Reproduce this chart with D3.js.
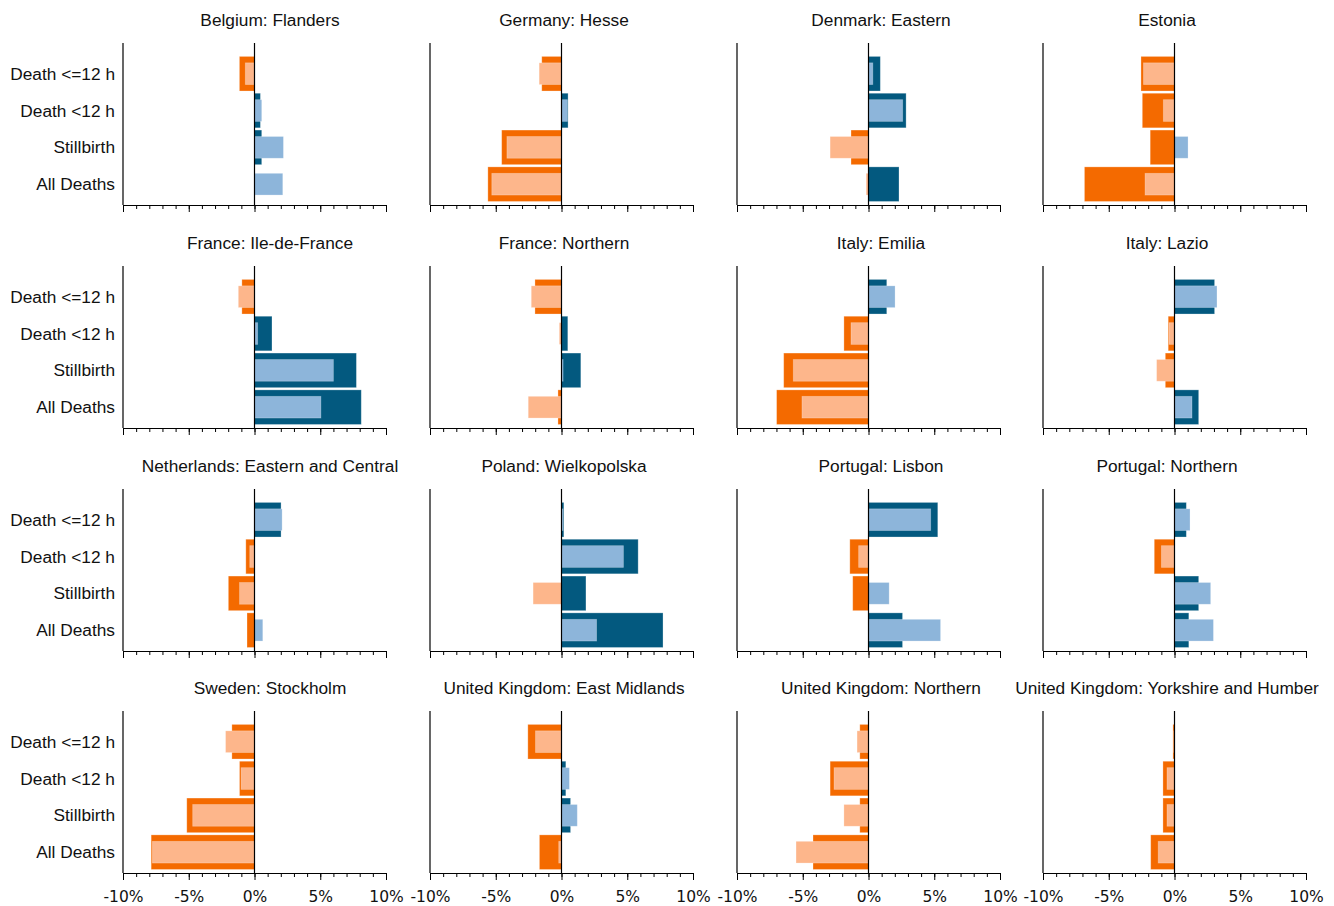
<!DOCTYPE html>
<html><head><meta charset="utf-8">
<script src="https://cdn.jsdelivr.net/npm/d3@7"></script>
<style>
html,body{margin:0;padding:0;background:#fff;}
svg{display:block;}
</style></head>
<body><svg id="chart" width="1334" height="906"></svg>
<script>
const categories = ["Death <=12 h", "Death <12 h", "Stillbirth", "All Deaths"];
const regions = [
  "Belgium: Flanders", "Germany: Hesse", "Denmark: Eastern", "Estonia",
  "France: Ile-de-France", "France: Northern", "Italy: Emilia", "Italy: Lazio",
  "Netherlands: Eastern and Central", "Poland: Wielkopolska", "Portugal: Lisbon", "Portugal: Northern",
  "Sweden: Stockholm", "United Kingdom: East Midlands", "United Kingdom: Northern", "United Kingdom: Yorkshire and Humber"
];
// wide (dark) bars, per region, in category order (%)
const outerValues = [
  [-1.15, 0.45, 0.55, 0],
  [-1.5, 0.5, -4.55, -5.6],
  [0.9, 2.86, -1.33, 2.32],
  [-2.55, -2.45, -1.85, -6.85],
  [-0.96, 1.33, 7.75, 8.12],
  [-2.02, 0.48, 1.47, -0.27],
  [1.39, -1.87, -6.45, -6.99],
  [3.05, -0.48, -0.7, 1.84],
  [2.02, -0.66, -1.99, -0.57],
  [0.18, 5.83, 1.86, 7.72],
  [5.27, -1.42, -1.2, 2.59],
  [0.9, -1.54, 1.84, 1.09],
  [-1.72, -1.14, -5.15, -7.86],
  [-2.56, 0.33, 0.69, -1.68],
  [-0.66, -2.92, -0.66, -4.22],
  [-0.12, -0.88, -0.88, -1.81]
];
// narrow (light) bars
const innerValues = [
  [-0.7, 0.55, 2.2, 2.15],
  [-1.7, 0.45, -4.15, -5.3],
  [0.33, 2.6, -2.92, -0.18],
  [-2.36, -0.85, 1.03, -2.24],
  [-1.23, 0.24, 6.0, 5.05],
  [-2.3, -0.17, 0.12, -2.53],
  [2.02, -1.33, -5.72, -5.06],
  [3.23, -0.42, -1.36, 1.33],
  [2.1, -0.36, -1.14, 0.63],
  [0.12, 4.71, -2.16, 2.67],
  [4.73, -0.75, 1.57, 5.48],
  [1.18, -1.0, 2.75, 2.96],
  [-2.2, -1.02, -4.7, -7.77],
  [-1.98, 0.6, 1.2, -0.21],
  [-0.87, -2.62, -1.87, -5.51],
  [-0.06, -0.57, -0.57, -1.24]
];
const majorTicks = [-10, -5, 0, 5, 10];
const minorTicks = d3.range(-10, 11, 1);
const xDomain = [-10, 10];

// layout
const colLeft = [123, 430, 737, 1043];
const panelW = 263;
const rowTop = [43, 266, 489, 711];
const panelH = 162;
const titleCx = [270, 564, 881, 1167];
const colors = {darkPos: "#03597f", darkNeg: "#f46a00", lightPos: "#8db5da", lightNeg: "#fdb68b"};

const svg = d3.select("#chart");

regions.forEach((name, i) => {
  const r = Math.floor(i / 4), c = i % 4;
  const g = svg.append("g").attr("transform", `translate(${colLeft[c]},${rowTop[r]})`);
  const x = d3.scaleLinear().domain(xDomain).range([0, panelW]);
  const y = d3.scaleBand().domain(categories).range([12.3, 159.6]).padding(0);
  const bh = y.bandwidth();

  // title
  g.append("text").attr("x", titleCx[c] - colLeft[c]).attr("y", -17)
    .attr("text-anchor", "middle").attr("font-family", "Liberation Sans, Arial, sans-serif")
    .attr("font-size", 17.3).attr("fill", "#111").text(name);

  const outer = categories.map((k, j) => ({k, v: outerValues[i][j]}));
  const inner = categories.map((k, j) => ({k, v: innerValues[i][j]}));

  g.selectAll("rect.outer").data(outer).join("rect").attr("class", "outer")
    .attr("x", d => x(Math.min(0, d.v))).attr("width", d => Math.abs(x(d.v) - x(0)))
    .attr("y", d => y(d.k) + bh * 0.03).attr("height", bh * 0.94)
    .attr("fill", d => d.v >= 0 ? colors.darkPos : colors.darkNeg)
    .attr("stroke", "#ffffff").attr("stroke-opacity", 0.35).attr("stroke-width", 0.8);

  g.selectAll("rect.inner").data(inner).join("rect").attr("class", "inner")
    .attr("x", d => x(Math.min(0, d.v))).attr("width", d => Math.abs(x(d.v) - x(0)))
    .attr("y", d => y(d.k) + y.step() / 2 - bh * 0.295).attr("height", bh * 0.59)
    .attr("fill", d => d.v >= 0 ? colors.lightPos : colors.lightNeg)
    .attr("stroke", "#ffffff").attr("stroke-opacity", 0.3).attr("stroke-width", 0.8);

  // zero line
  g.append("line").attr("x1", x(0)).attr("x2", x(0)).attr("y1", 0).attr("y2", panelH)
    .attr("stroke", "#000").attr("stroke-width", 1.2);
  // left axis line
  g.append("line").attr("x1", x(-10)).attr("x2", x(-10)).attr("y1", 0).attr("y2", panelH)
    .attr("stroke", "#000").attr("stroke-width", 1.2);

  // minor ticks
  const minorAxis = d3.axisBottom(x).tickValues(minorTicks).tickSize(4).tickSizeOuter(0).tickFormat("");
  const ga = g.append("g").attr("transform", `translate(0,${panelH})`).call(minorAxis);
  ga.select(".domain").attr("stroke", "#000").attr("stroke-width", 1.2);
  ga.selectAll(".tick line").attr("stroke", "#000").attr("stroke-width", 1);

  const majorAxis = d3.axisBottom(x).tickValues(majorTicks).tickSize(7).tickSizeOuter(0)
    .tickPadding(11).tickFormat(d => r === 3 ? d + "%" : "");
  const gm = g.append("g").attr("transform", `translate(0,${panelH})`).call(majorAxis);
  gm.select(".domain").remove();
  gm.selectAll(".tick line").attr("stroke", "#000").attr("stroke-width", 1);
  gm.selectAll(".tick text").attr("font-family", "DejaVu Sans, sans-serif").attr("font-size", 15.5).attr("fill", "#111");

  // category labels on first column
  if (c === 0) {
    g.selectAll("text.cat").data(categories).join("text").attr("class", "cat")
      .attr("x", -8).attr("y", d => y(d) + y.step() / 2).attr("dy", "0.35em")
      .attr("text-anchor", "end").attr("font-family", "Liberation Sans, Arial, sans-serif")
      .attr("font-size", 17.3).attr("fill", "#111").text(d => d);
  }
});
</script>
</body></html>
